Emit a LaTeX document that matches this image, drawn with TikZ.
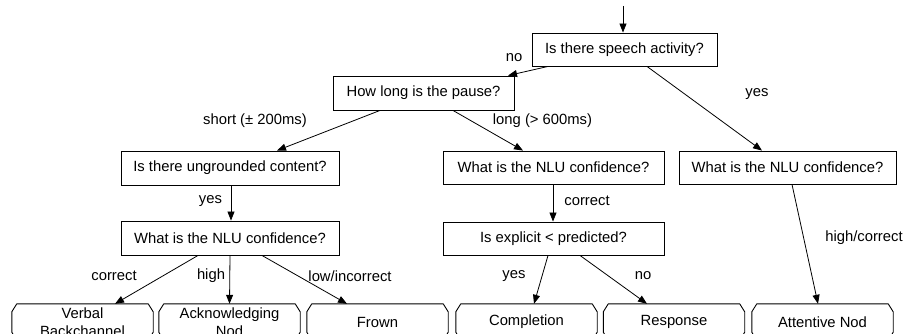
\documentclass[tikz,border=0pt]{standalone}
\usepackage{fontspec}
\setmainfont{Liberation Sans}
\usetikzlibrary{arrows.meta}
\begin{document}
\begin{tikzpicture}[x=1pt,y=-1pt,
  font=\fontsize{14.8}{18}\selectfont,
  q/.style={draw, line width=0.9pt, rectangle, inner sep=0pt, minimum height=34pt},
  leaf/.style={rectangle, minimum width=141pt, minimum height=36pt, inner sep=0pt, align=center},
  leafline/.style={line width=0.9pt, line join=round},
  arr/.style={-{Triangle[length=9pt,width=7pt]}, line width=0.8pt},
  lab/.style={inner sep=0pt}]
\useasboundingbox (0,0) rectangle (907,334);
\clip (0,0) rectangle (907,334);
% questions
\node[q, minimum width=185pt, minimum height=33pt] (q1) at (624.5,49.5) {Is there speech activity?};
\node[q, minimum width=181pt] (pause) at (423.5,93) {How long is the pause?};
\node[q, minimum width=218pt] (ung) at (230,168) {Is there ungrounded content?};
\node[q, minimum width=218pt] (nluL) at (230,238) {What is the NLU confidence?};
\node[q, minimum width=221pt, minimum height=33pt] (nluM) at (553.5,167.5) {What is the NLU confidence?};
\node[q, minimum width=221pt, minimum height=33pt] (expl) at (553.5,238.5) {Is explicit < predicted?};
\node[q, minimum width=217pt, minimum height=33pt] (nluR) at (787.5,167.5) {What is the NLU confidence?};
% leaves
\node[leaf] (verbal) at (82.5,322) {Verbal\\Backchannel};
\node[leaf] (ack) at (229.5,322) {Acknowledging\\Nod};
\node[leaf] (frown) at (377.5,322) {Frown};
\node[leaf] (compl) at (526.5,322) {Completion};
\node[leaf] (resp) at (674,322) {Response};
\node[leaf] (att) at (822.5,322) {Attentive Nod};
\foreach \n in {verbal,ack,frown,compl,resp,att}{
  \draw[leafline] ([xshift=5pt]\n.north west) -- ([xshift=-5pt]\n.north east)
    -- ([yshift=-8pt]\n.north east) -- ([yshift=8pt]\n.south east)
    -- ([xshift=-5pt]\n.south east) -- ([xshift=5pt]\n.south west)
    -- ([yshift=8pt]\n.south west) -- ([yshift=-8pt]\n.north west) -- cycle;
}
% entry
\coordinate (start) at (623,6);
\draw[arr] (start) -- (start |- q1.north);
% connectors
\draw[arr] ([xshift=-76.5pt]q1.south) -- ([xshift=84.5pt]pause.north);
\draw[arr] ([xshift=22.5pt]q1.south) -- ([xshift=-25.5pt]nluR.north);
\draw[arr] ([xshift=-43.5pt]pause.south) -- ([xshift=47pt]ung.north);
\draw[arr] ([xshift=29.5pt]pause.south) -- ([xshift=-30.5pt]nluM.north);
\draw[arr] ([xshift=1pt]ung.south) -- ([xshift=1pt]nluL.north);
\draw[arr] ([xshift=-0.5pt]nluM.south) -- ([xshift=-0.5pt]expl.north);
\draw[arr] ([xshift=-32pt]nluL.south) -- ([xshift=32.5pt]verbal.north);
\draw[arr] (nluL.south) -- (ack.north);
\draw[arr] ([xshift=32pt]nluL.south) -- ([xshift=-30.5pt]frown.north);
\draw[arr] ([xshift=-5.5pt]expl.south) -- ([xshift=7.5pt]compl.north);
\draw[arr] ([xshift=26.5pt]expl.south) -- ([xshift=-27pt]resp.north);
\draw[arr] ([xshift=4.5pt]nluR.south) -- ([xshift=-4.5pt]att.north);
% labels
\node[lab] (l1) at (514,58) {no};
\node[lab] (l2) at (757,94) {yes};
\node[lab] (l3) at (255,121) {short (± 200ms)};
\node[lab] (l4) at (542.5,121) {long (> 600ms)};
\node[lab] (l5) at (210.5,201) {yes};
\node[lab] (l6) at (587,201) {correct};
\node[lab] (l7) at (114,276) {correct};
\node[lab] (l8) at (211,276) {high};
\node[lab] (l9) at (350,276) {low/incorrect};
\node[lab] (l10) at (514,276) {yes};
\node[lab] (l11) at (643,276) {no};
\node[lab] (l12) at (864,238) {high/correct};
\end{tikzpicture}
\end{document}
